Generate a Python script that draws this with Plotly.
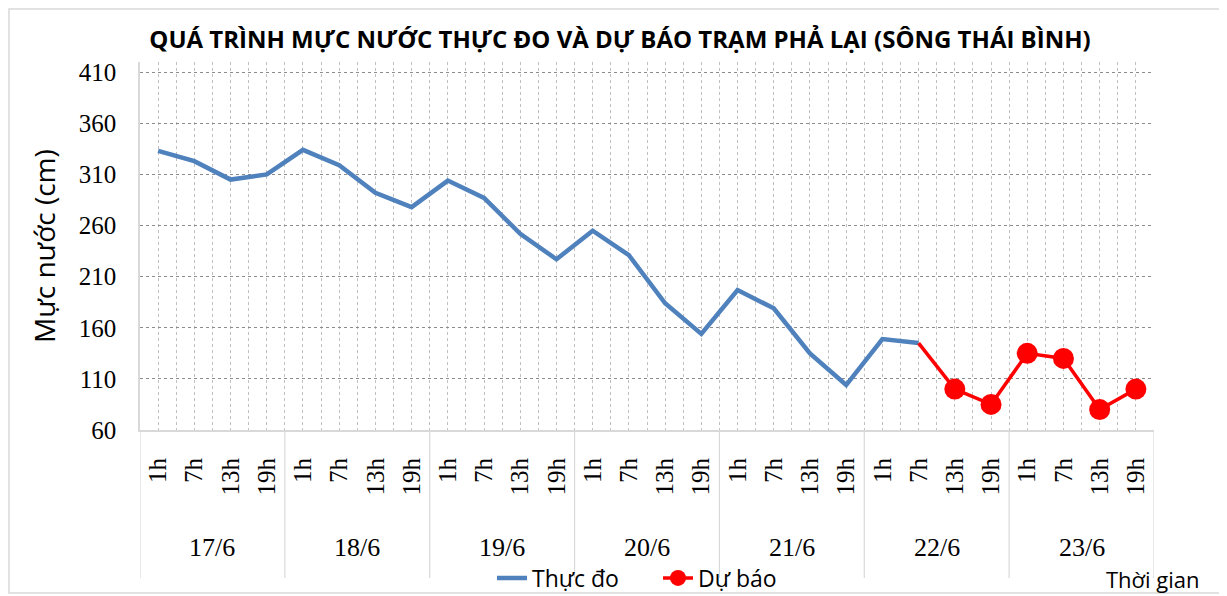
import plotly.graph_objects as go

# ---- data ----
dates = ["17/6", "18/6", "19/6", "20/6", "21/6", "22/6", "23/6"]
hours = ["1h", "7h", "13h", "19h"]
measured = [333, 323, 305, 310, 334, 319, 292, 278, 304, 287, 252, 227,
            255, 231, 184, 154, 197, 179, 135, 104, 149, 145]
forecast = [100, 85, 135, 130, 80, 100]
y_ticks = [60, 110, 160, 210, 260, 310, 360, 410]

title = "QUÁ TRÌNH MỰC NƯỚC THỰC ĐO VÀ DỰ BÁO TRẠM PHẢ LẠI (SÔNG THÁI BÌNH)"
y_title = "Mực nước (cm)"
x_title = "Thời gian"
name_obs = "Thực đo"
name_fc = "Dự báo"

# ---- derived ----
n = len(dates) * len(hours)
idx = list(range(n))
hour_labels = [hours[i % len(hours)] for i in idx]
x_obs = idx[:len(measured)]
x_fc = idx[len(measured):len(measured) + len(forecast)]

PAGE_W, PAGE_H = 1227, 596
OFF = 8  # default body margin of the html page
W, H = PAGE_W - OFF, PAGE_H - OFF
# plot area in page pixels
L, R, T, B = 140, 1154, 62, 430


def py(p):
    return (B - p) / (B - T)


def px(p):
    return (p - L) / (R - L)


SANS = "Open Sans, Noto Sans, sans-serif"
SERIF = "Liberation Serif, DejaVu Serif, serif"

fig = go.Figure()
fig.add_trace(go.Scatter(x=x_obs, y=measured, mode="lines", name=name_obs,
                         line=dict(color="#4f81bd", width=4.5)))
fig.add_trace(go.Scatter(x=[x_obs[-1], x_fc[0]], y=[measured[-1], forecast[0]],
                         mode="lines", showlegend=False, hoverinfo="skip",
                         line=dict(color="#ff0000", width=3.5)))
fig.add_trace(go.Scatter(x=x_fc, y=forecast, mode="lines+markers", name=name_fc,
                         line=dict(color="#ff0000", width=3.5),
                         marker=dict(color="#ff0000", size=21)))

shapes = []
# outer border
shapes.append(dict(type="rect", xref="paper", yref="paper",
                   x0=px(OFF + 1), x1=px(1220), y0=py(593), y1=py(OFF + 1),
                   line=dict(color="#d9d9d9", width=1.5), layer="below"))
# group dividers
for k in range(len(dates) + 1):
    xv = k * len(hours) - 0.5
    shapes.append(dict(type="line", xref="x", yref="paper",
                       x0=xv, x1=xv, y0=0, y1=py(578),
                       line=dict(color="#d9d9d9", width=1.2)))
annotations = []
for k, d in enumerate(dates):
    annotations.append(dict(x=k * len(hours) + (len(hours) - 1) / 2, xref="x",
                            y=py(547), yref="paper", text=d, showarrow=False,
                            yanchor="middle",
                            font=dict(family=SERIF, size=26, color="#000")))
annotations.append(dict(x=px(1153), xref="paper", y=py(579), yref="paper",
                        text=x_title, showarrow=False, xanchor="center",
                        yanchor="middle",
                        font=dict(family=SANS, size=22, color="#000")))
annotations.append(dict(x=px(44), xref="paper", y=py(246), yref="paper",
                        text=y_title, showarrow=False, textangle=-90,
                        xanchor="center", yanchor="middle",
                        font=dict(family=SANS, size=28, color="#000")))

fig.update_layout(
    width=W, height=H,
    margin=dict(l=L - OFF, r=W - (R - OFF), t=T - OFF, b=H - (B - OFF),
                pad=0, autoexpand=False),
    paper_bgcolor="white", plot_bgcolor="white",
    title=dict(text="<b>" + title + "</b>", x=px(620), xanchor="center",
               xref="paper", y=1 - (40 - OFF) / H, yanchor="middle",
               font=dict(family=SANS, size=24, color="#000")),
    xaxis=dict(range=[-0.5, n - 0.5], tickmode="array", tickvals=idx,
               ticktext=hour_labels, tickangle=-90, automargin=False,
               tickfont=dict(family=SERIF, size=25, color="#000"),
               showgrid=True, gridcolor="#c0c0c0", griddash="dot", gridwidth=1,
               minor=dict(tickmode="linear", tick0=-0.5, dtick=1, showgrid=True,
                          gridcolor="#c0c0c0", griddash="dot", gridwidth=1),
               showline=True, linecolor="#d9d9d9", linewidth=2,
               ticks="", ticklabelstandoff=16, zeroline=False),
    yaxis=dict(range=[60, 420], tickmode="array", tickvals=y_ticks,
               automargin=False,
               tickfont=dict(family=SERIF, size=25, color="#000"),
               showgrid=True, gridcolor="#8c8c8c", griddash="dot", gridwidth=1,
               showline=True, linecolor="#d9d9d9", linewidth=1.5,
               ticks="", ticklabelstandoff=17, zeroline=False),
    legend=dict(orientation="h", x=px(492), xanchor="left", y=py(578),
                yanchor="middle", font=dict(family=SANS, size=23, color="#000"),
                bgcolor="rgba(0,0,0,0)", tracegroupgap=0,
                entrywidth=121, entrywidthmode="pixels"),
    shapes=shapes, annotations=annotations,
    showlegend=True,
)

fig.write_html("out.html")
